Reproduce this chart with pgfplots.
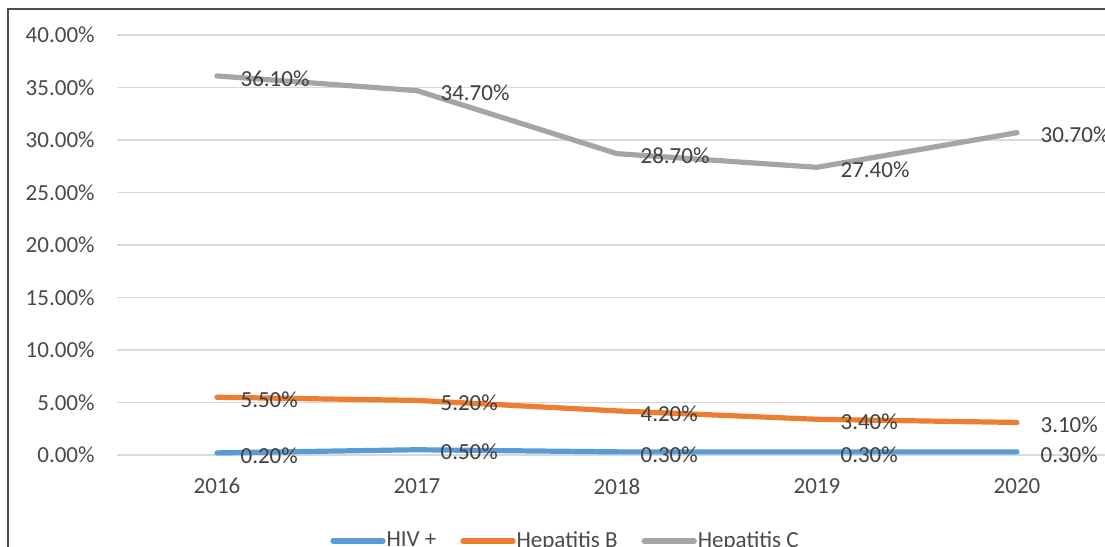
\documentclass[border=0pt]{standalone}
\usepackage{fontspec}
\setmainfont{Carlito}
\usepackage{pgfplots}
\pgfplotsset{compat=1.18}
\definecolor{cblue}{HTML}{5B9BD5}
\definecolor{corange}{HTML}{ED7D31}
\definecolor{cgray}{HTML}{A5A5A5}
\definecolor{ctick}{HTML}{4A4A4A}
\definecolor{clabel}{HTML}{404040}
\definecolor{cgrid}{HTML}{D9D9D9}
\newcommand{\chf}{\fontsize{11.5}{13.8}\selectfont}
\begin{document}
\begin{tikzpicture}
\useasboundingbox (0,0) rectangle (552.5pt,273.5pt);
\fill[white] (0,0) rectangle (552.5pt,273.5pt);
\draw[line width=0.6pt, color=black!70] (4pt,-20pt) -- (4pt,269pt) -- (600pt,269pt);
\begin{axis}[
  at={(58.5pt,46pt)}, anchor=south west,
  scale only axis, width=500pt, height=210pt,
  xmin=-0.5, xmax=4.5, ymin=0, ymax=40,
  xtick={0,1,2,3,4},
  xticklabels={2016,2017,2018,2019,2020},
  ytick={0,5,...,40},
  /pgf/number format/assume math mode=true,
  yticklabel={\pgfmathprintnumber[fixed,fixed zerofill,precision=2]{\tick}\%},
  axis line style={draw=none},
  major tick length=0pt,
  ymajorgrids,
  grid style={color=cgrid, line width=0.6pt},
  tick label style={font=\chf, text=ctick},
  yticklabel style={anchor=east, inner sep=0pt, xshift=-11pt},
  xticklabel style={anchor=north, inner sep=0pt, yshift=-11.5pt},
  clip=false,
  every axis plot/.append style={line width=2.6pt, line cap=round, line join=round},
  nodes near coords={\pgfmathprintnumber[fixed,fixed zerofill,precision=2]{\pgfplotspointmeta}\%},
  nodes near coords style={anchor=west, inner sep=0pt, xshift=10.5pt, yshift=-1.2pt, font=\chf, text=clabel},
  legend columns=3,
  legend image code/.code={\draw[#1, line width=2.6pt, line cap=round] (0pt,0pt) -- (25pt,0pt);},
  legend style={at={(rel axis cs:0.448,-0.2048)}, anchor=center, draw=none, fill=none,
    font=\chf, text=ctick, inner sep=0pt, column sep=0pt,
    nodes={inner sep=0.5pt}},
]
\addplot[color=cblue] coordinates {(0,0.2) (1,0.5) (2,0.3) (3,0.3) (4,0.3)};
\addlegendentry{HIV +\rule{11.5pt}{0pt}}
\addplot[color=corange] coordinates {(0,5.5) (1,5.2) (2,4.2) (3,3.4) (4,3.1)};
\addlegendentry{Hepatitis B\rule{11.5pt}{0pt}}
\addplot[color=cgray] coordinates {(0,36.1) (1,34.7) (2,28.7) (3,27.4) (4,30.7)};
\addlegendentry{Hepatitis C}
\end{axis}
\end{tikzpicture}
\end{document}
